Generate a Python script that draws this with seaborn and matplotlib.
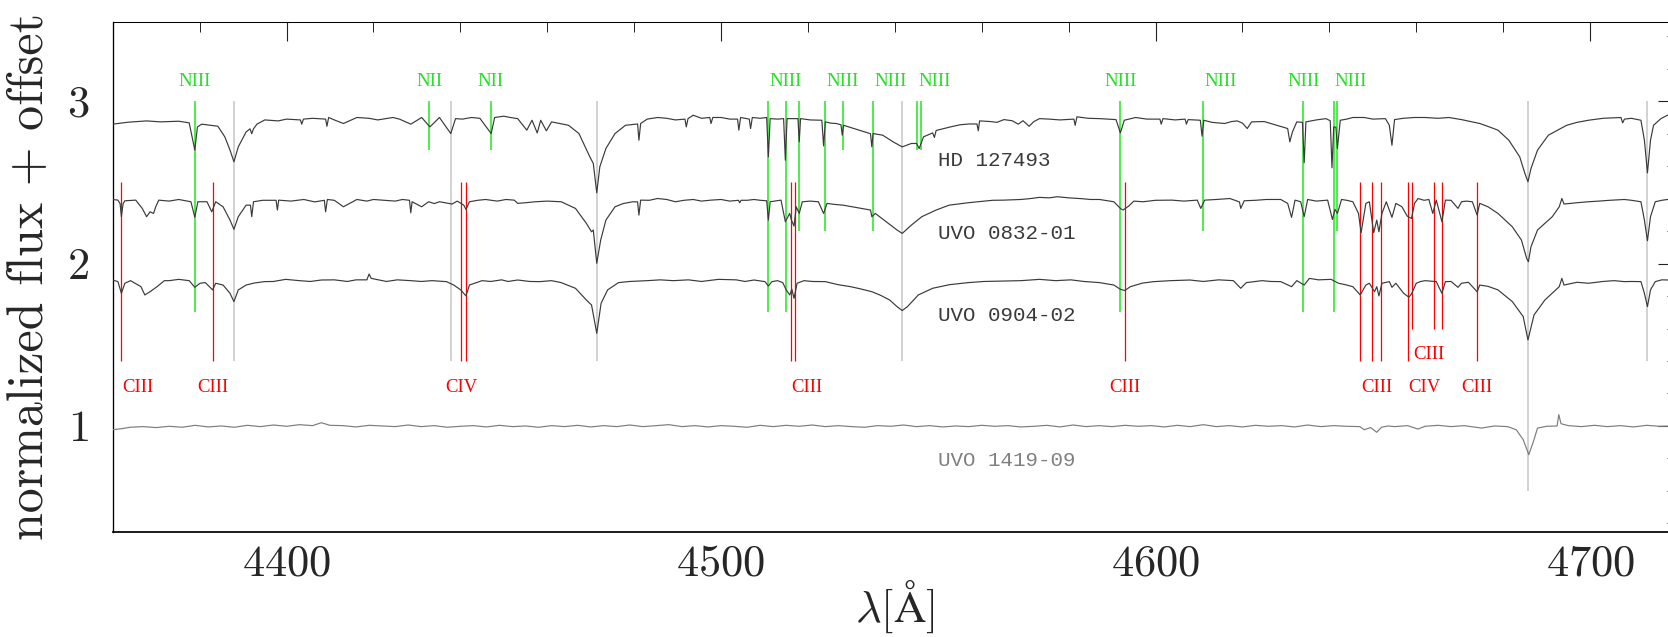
import numpy as np
import pandas as pd
import matplotlib
matplotlib.use("Agg")
import matplotlib.pyplot as plt
from matplotlib.ticker import MultipleLocator
import seaborn as sns

# ---------------- data ----------------
star_names = ["HD 127493", "UVO 0832-01", "UVO 0904-02", "UVO 1419-09"]
offsets = [1.9, 1.4, 0.9, 0.0]

hd_wl = [4360.0, 4363.6, 4367.8, 4371.0, 4375.2, 4377.6, 4378.9, 4379.5, 4380.5, 4384.2,
         4385.8, 4387.0, 4387.9, 4388.9, 4390.7, 4391.6, 4392.0, 4392.4, 4393.2, 4398.1,
         4403.2, 4403.5, 4403.9, 4409.0, 4409.3, 4409.7, 4413.1, 4416.2, 4424.5, 4428.6,
         4431.1, 4433.0, 4435.2, 4437.8, 4438.9, 4442.6, 4447.1, 4447.9, 4450.0, 4453.2,
         4455.3, 4456.5, 4457.7, 4458.5, 4459.8, 4461.0, 4464.9, 4467.3, 4469.8, 4470.6,
         4471.4, 4472.1, 4473.5, 4475.6, 4478.0, 4480.8, 4481.1, 4481.5, 4485.4, 4491.7,
         4492.0, 4492.4, 4493.6, 4497.4, 4497.7, 4498.1, 4503.8, 4504.1, 4504.5, 4506.5,
         4506.8, 4507.2, 4510.5, 4510.9, 4511.3, 4514.4, 4514.8, 4515.2, 4517.7, 4518.0,
         4518.3, 4523.2, 4523.6, 4524.0, 4526.5, 4527.6, 4527.9, 4528.2, 4530.6, 4533.1,
         4534.4, 4534.7, 4535.0, 4537.2, 4539.6, 4541.7, 4543.8, 4545.0, 4545.6, 4546.6,
         4548.7, 4549.1, 4549.5, 4552.8, 4558.9, 4559.2, 4559.5, 4565.1, 4568.4, 4569.5,
         4570.9, 4573.3, 4581.2, 4581.5, 4581.9, 4587.1, 4590.9, 4591.9, 4592.8, 4595.4,
         4601.0, 4601.3, 4601.7, 4606.8, 4607.1, 4607.5, 4610.3, 4610.7, 4611.1, 4615.9,
         4618.8, 4621.1, 4622.1, 4627.9, 4630.4, 4630.9, 4631.5, 4632.5, 4633.8, 4634.2,
         4634.6, 4639.2, 4640.2, 4640.6, 4641.0, 4641.5, 4641.85, 4642.5, 4645.4, 4652.9,
         4653.8, 4654.4, 4655.0, 4659.6, 4670.4, 4674.6, 4678.8, 4681.3, 4683.8, 4685.0,
         4685.7, 4686.4, 4687.9, 4690.4, 4694.6, 4699.6, 4707.1, 4707.5, 4707.9, 4711.7,
         4712.5, 4713.2, 4713.9, 4714.6, 4716.3, 4717.8, 4720.0]
hd_flux = [0.959, 0.971, 0.979, 0.973, 0.977, 0.967, 0.799, 0.942, 0.959, 0.946,
           0.881, 0.799, 0.727, 0.819, 0.911, 0.930, 0.900, 0.930, 0.959, 0.979,
           0.985, 0.959, 0.990, 0.990, 0.946, 1.000, 0.963, 1.000, 1.000, 0.959,
           1.000, 0.942, 1.000, 0.901, 0.993, 1.000, 0.901, 1.000, 1.008, 0.993,
           0.922, 0.983, 0.905, 0.983, 0.918, 0.973, 0.952, 0.901, 0.758, 0.717,
           0.536, 0.696, 0.809, 0.901, 0.952, 0.960, 0.860, 0.963, 1.000, 0.990,
           0.942, 0.993, 1.014, 1.000, 0.963, 1.000, 0.990, 0.922, 1.000, 0.990,
           0.932, 1.000, 1.000, 0.758, 0.993, 0.993, 0.737, 0.993, 0.993, 0.850,
           0.993, 0.983, 0.825, 0.973, 0.963, 0.955, 0.891, 0.952, 0.932, 0.911,
           0.900, 0.819, 0.901, 0.891, 0.850, 0.819, 0.840, 0.840, 0.809, 0.881,
           0.905, 0.877, 0.920, 0.942, 0.960, 0.918, 0.979, 0.987, 0.959, 0.980,
           0.946, 0.993, 0.990, 0.952, 1.004, 0.993, 0.987, 0.905, 0.983, 1.000,
           0.990, 0.959, 0.993, 0.990, 0.959, 0.987, 0.983, 0.885, 0.983, 0.963,
           0.979, 0.932, 0.973, 0.952, 0.932, 0.850, 0.911, 0.973, 0.970, 0.721,
           0.973, 0.993, 0.980, 0.690, 0.942, 0.940, 0.809, 0.983, 1.000, 0.993,
           0.952, 0.829, 0.987, 1.000, 0.987, 0.963, 0.922, 0.860, 0.758, 0.655,
           0.604, 0.686, 0.799, 0.891, 0.952, 0.983, 1.000, 0.967, 0.990, 0.983,
           0.860, 0.659, 0.860, 0.952, 0.993, 1.014, 1.010]
# small continuum wiggles between the features above
hd_fine_wl = [4395.0, 4400.0, 4406.0, 4411.0, 4419.0, 4421.0, 4426.0, 4440.5, 4444.5, 4451.5,
              4462.5, 4483.0, 4487.5, 4489.5, 4495.5, 4500.0, 4502.0, 4509.0, 4513.0, 4520.5,
              4525.3, 4551.0, 4555.0, 4557.0, 4562.0, 4563.5, 4567.0, 4572.0, 4575.5, 4578.0,
              4584.5, 4598.0, 4604.5, 4613.0, 4617.5, 4620.0, 4625.0, 4637.0, 4644.0, 4648.0,
              4650.0, 4657.0, 4662.0, 4665.0, 4667.5, 4672.5, 4676.5, 4697.0, 4703.0, 4709.5,
              4718.9]
hd_fine_flux = [0.985, 0.990, 0.995, 0.985, 0.995, 0.985, 0.990, 0.990, 0.995, 1.000,
                0.965, 0.990, 0.995, 0.985, 0.995, 1.000, 0.990, 0.995, 0.990, 0.985,
                0.965, 0.930, 0.955, 0.960, 0.975, 0.970, 0.980, 0.975, 0.990, 0.985,
                0.995, 0.990, 0.985, 0.970, 0.975, 0.965, 0.975, 0.985, 0.990, 1.000,
                0.990, 0.995, 1.000, 0.995, 1.000, 0.975, 0.945, 0.970, 0.995, 0.995,
                1.010]

u0832_wl = [4360.0, 4361.2, 4361.7, 4362.0, 4362.4, 4362.8, 4365.3, 4366.8, 4367.8, 4368.6,
            4369.4, 4369.9, 4370.6, 4375.2, 4378.0, 4378.9, 4379.6, 4381.7, 4382.8, 4383.7,
            4385.4, 4387.0, 4387.9, 4388.9, 4390.7, 4391.7, 4392.0, 4392.4, 4397.6, 4397.9,
            4398.2, 4408.7, 4409.0, 4409.4, 4413.1, 4416.2, 4422.0, 4428.3, 4428.6, 4428.9,
            4431.1, 4432.7, 4435.2, 4438.1, 4439.3, 4440.8, 4441.3, 4442.1, 4445.8, 4452.4,
            4453.2, 4457.3, 4463.2, 4466.5, 4469.0, 4470.2, 4470.6, 4471.4, 4472.3, 4473.5,
            4475.6, 4479.7, 4480.8, 4481.1, 4481.5, 4485.4, 4489.5, 4493.6, 4497.7, 4504.0,
            4504.3, 4504.6, 4507.6, 4510.5, 4510.9, 4511.3, 4513.8, 4514.8, 4515.8, 4516.2,
            4516.8, 4517.3, 4518.0, 4518.7, 4522.4, 4523.6, 4524.4, 4528.1, 4532.3, 4534.4,
            4534.7, 4535.5, 4538.0, 4540.5, 4541.7, 4543.8, 4546.2, 4549.5, 4556.9, 4565.1,
            4573.3, 4577.4, 4587.1, 4590.4, 4591.9, 4592.5, 4593.8, 4597.1, 4603.8, 4609.6,
            4610.4, 4611.3, 4617.1, 4619.3, 4619.6, 4620.4, 4628.8, 4630.4, 4631.3, 4632.1,
            4633.4, 4634.2, 4635.0, 4639.6, 4640.7, 4641.3, 4641.85, 4642.8, 4645.4, 4646.7,
            4647.3, 4648.4, 4649.2, 4650.2, 4650.9, 4651.4, 4652.1, 4653.1, 4654.4, 4655.3,
            4656.7, 4657.9, 4658.9, 4659.6, 4660.4, 4662.9, 4663.8, 4664.6, 4665.9, 4666.7,
            4669.6, 4670.4, 4672.9, 4674.0, 4674.6, 4678.8, 4682.1, 4684.2, 4685.4, 4685.8,
            4686.4, 4687.9, 4691.3, 4692.9, 4693.5, 4694.0, 4699.6, 4707.9, 4711.7, 4712.5,
            4713.2, 4713.9, 4715.0, 4717.8, 4720.0]
u0832_flux = [0.995, 0.991, 0.970, 0.889, 0.970, 0.987, 0.991, 0.940, 0.889, 0.919,
              0.909, 0.950, 0.991, 0.995, 0.981, 0.885, 0.981, 0.981, 0.919, 0.981,
              0.950, 0.868, 0.811, 0.889, 0.960, 0.960, 0.889, 0.981, 0.990, 0.930,
              0.991, 0.990, 0.919, 0.995, 0.950, 0.995, 0.991, 0.990, 0.913, 0.981,
              0.950, 0.981, 0.981, 0.967, 0.985, 0.960, 0.934, 0.981, 0.995, 0.991,
              0.971, 0.981, 0.981, 0.940, 0.848, 0.796, 0.807, 0.602, 0.745, 0.868,
              0.950, 0.981, 0.980, 0.899, 0.991, 1.001, 0.981, 0.995, 0.991, 0.990,
              0.975, 0.990, 0.995, 0.987, 0.868, 0.981, 0.991, 0.858, 0.909, 0.868,
              0.831, 0.950, 0.909, 0.981, 0.981, 0.909, 0.971, 0.960, 0.940, 0.930,
              0.889, 0.909, 0.858, 0.807, 0.786, 0.837, 0.889, 0.930, 0.975, 0.991,
              1.008, 1.012, 0.995, 0.981, 0.940, 0.930, 0.954, 0.981, 0.991, 0.991,
              0.940, 0.991, 1.001, 0.980, 0.940, 0.987, 0.995, 0.971, 0.885, 0.991,
              0.981, 0.889, 0.995, 0.991, 0.872, 0.934, 0.909, 0.995, 0.981, 0.909,
              0.790, 0.971, 0.981, 0.790, 0.868, 0.796, 0.909, 0.981, 0.885, 0.971,
              0.950, 0.893, 0.878, 0.971, 1.001, 0.995, 0.909, 0.991, 0.858, 0.991,
              0.940, 0.981, 0.981, 0.899, 0.971, 0.909, 0.827, 0.745, 0.632, 0.612,
              0.704, 0.807, 0.889, 0.950, 1.001, 0.967, 0.981, 0.995, 0.981, 0.868,
              0.741, 0.889, 0.981, 0.995, 0.995]
u0832_fine_wl = [4373.0, 4394.5, 4401.0, 4404.0, 4406.5, 4411.0, 4418.5, 4420.0, 4425.0, 4426.7,
                 4434.0, 4444.0, 4448.5, 4450.5, 4455.0, 4460.0, 4477.5, 4483.5, 4487.5, 4491.5,
                 4495.5, 4500.0, 4502.0, 4506.0, 4509.0, 4520.5, 4526.0, 4530.2, 4552.5, 4560.5,
                 4562.5, 4569.0, 4571.0, 4575.5, 4580.0, 4583.0, 4585.0, 4595.0, 4600.0, 4606.5,
                 4614.0, 4623.0, 4625.5, 4637.0, 4644.0, 4661.8, 4668.0, 4671.5, 4676.5, 4697.0,
                 4702.0, 4704.5, 4709.5, 4716.5]
u0832_fine_flux = [0.985, 0.990, 0.985, 0.995, 0.980, 0.990, 0.985, 0.995, 0.985, 0.995,
                   0.970, 0.990, 0.985, 0.995, 0.975, 0.985, 0.970, 0.990, 0.995, 0.990,
                   0.985, 0.995, 0.985, 0.990, 0.990, 0.985, 0.965, 0.950, 0.960, 0.985,
                   0.990, 0.995, 1.000, 1.005, 1.005, 1.000, 0.995, 0.985, 0.990, 0.985,
                   0.995, 0.990, 0.995, 0.985, 0.990, 0.990, 0.990, 0.985, 0.950, 0.975,
                   0.985, 0.990, 0.990, 0.990]

u0904_wl = [4360.0, 4361.2, 4362.0, 4362.8, 4364.1, 4366.5, 4367.4, 4368.6, 4370.2, 4371.9,
            4375.2, 4377.6, 4378.9, 4380.1, 4381.3, 4383.0, 4383.7, 4385.4, 4387.0, 4387.9,
            4388.9, 4390.7, 4394.9, 4399.8, 4408.0, 4418.5, 4419.0, 4419.5, 4428.6, 4436.8,
            4438.5, 4440.1, 4441.3, 4442.1, 4445.0, 4453.2, 4458.3, 4463.2, 4466.5, 4469.0,
            4470.2, 4471.4, 4472.4, 4473.9, 4476.4, 4483.0, 4499.4, 4507.6, 4510.1, 4510.9,
            4511.7, 4514.2, 4515.0, 4515.8, 4516.3, 4516.8, 4517.5, 4519.1, 4524.0, 4529.8,
            4534.7, 4538.8, 4540.5, 4541.7, 4542.9, 4545.4, 4548.7, 4556.9, 4565.1, 4573.3,
            4587.1, 4590.4, 4591.9, 4592.9, 4594.2, 4599.6, 4607.9, 4617.9, 4619.6, 4620.9,
            4628.8, 4631.3, 4632.5, 4634.2, 4635.4, 4640.4, 4642.1, 4645.4, 4647.1, 4648.4,
            4649.2, 4650.4, 4650.9, 4651.4, 4652.1, 4653.8, 4654.4, 4655.3, 4657.1, 4658.3,
            4658.9, 4660.0, 4662.1, 4664.6, 4665.9, 4666.7, 4669.6, 4670.4, 4674.0, 4674.6,
            4678.8, 4682.1, 4684.6, 4685.7, 4687.1, 4689.6, 4692.9, 4693.5, 4694.0, 4699.6,
            4707.9, 4711.7, 4712.5, 4713.2, 4713.9, 4715.0, 4717.8, 4720.0]
u0904_flux = [0.999, 0.989, 0.917, 0.979, 0.995, 0.958, 0.907, 0.927, 0.958, 0.995,
              1.003, 0.995, 0.954, 0.979, 0.983, 0.938, 0.979, 0.968, 0.917, 0.866,
              0.938, 0.968, 0.989, 1.003, 0.999, 1.000, 1.036, 1.009, 0.995, 0.989,
              0.968, 0.938, 0.901, 0.968, 0.995, 0.999, 0.989, 0.983, 0.948, 0.876,
              0.845, 0.671, 0.856, 0.938, 0.983, 0.995, 1.003, 0.999, 0.989, 0.962,
              0.989, 0.983, 0.938, 0.907, 0.942, 0.886, 0.979, 0.995, 0.989, 0.958,
              0.927, 0.876, 0.835, 0.811, 0.835, 0.907, 0.948, 0.983, 0.993, 1.003,
              0.983, 0.968, 0.942, 0.934, 0.958, 0.989, 0.999, 0.995, 0.948, 0.983,
              0.989, 0.958, 0.995, 0.968, 1.009, 1.003, 0.979, 0.958, 0.907, 0.968,
              0.979, 0.927, 0.958, 0.901, 0.979, 0.989, 0.954, 0.979, 0.917, 0.893,
              0.913, 0.979, 0.995, 0.989, 0.917, 0.989, 0.954, 0.979, 0.927, 0.968,
              0.938, 0.866, 0.774, 0.630, 0.784, 0.876, 0.958, 1.009, 0.968, 0.979,
              0.989, 0.989, 0.917, 0.835, 0.938, 0.989, 0.999, 0.999]
u0904_fine_wl = [4373.0, 4392.5, 4397.0, 4403.0, 4405.5, 4411.0, 4414.0, 4416.0, 4423.0, 4425.5,
                 4431.0, 4433.5, 4447.0, 4449.5, 4451.0, 4456.0, 4461.0, 4479.0, 4486.0, 4489.0,
                 4492.5, 4495.5, 4503.5, 4505.5, 4513.0, 4521.0, 4527.0, 4532.0, 4536.7, 4552.5,
                 4560.5, 4569.0, 4577.0, 4580.5, 4583.5, 4597.0, 4603.5, 4611.0, 4614.5, 4624.5,
                 4626.5, 4637.5, 4643.7, 4661.0, 4668.0, 4672.0, 4676.5, 4697.0, 4703.0, 4705.5,
                 4709.5, 4716.5]
u0904_fine_flux = [0.995, 0.980, 0.990, 0.995, 0.990, 1.000, 0.990, 1.000, 0.990, 1.000,
                   0.990, 0.995, 0.990, 1.000, 0.990, 0.990, 0.995, 0.990, 1.000, 0.995,
                   1.000, 0.990, 1.000, 0.990, 0.995, 0.990, 0.970, 0.945, 0.905, 0.970,
                   0.990, 0.995, 0.995, 1.000, 0.990, 0.980, 0.995, 0.990, 1.000, 0.995,
                   0.990, 1.000, 0.970, 0.990, 0.990, 0.985, 0.960, 0.985, 0.990, 0.995,
                   0.990, 1.000]

u1419_wl = [4360, 4362, 4364, 4367, 4370, 4373, 4376, 4379, 4382, 4385, 4388, 4391, 4394,
            4397, 4400, 4403, 4406, 4408, 4410, 4413, 4416, 4419, 4422, 4425, 4428, 4431,
            4434, 4437, 4440, 4443, 4446, 4449, 4452, 4455, 4458, 4461, 4464, 4467, 4470,
            4473, 4476, 4479, 4482, 4485, 4488, 4491, 4494, 4497, 4500, 4503, 4506, 4509,
            4512, 4515, 4518, 4521, 4524, 4527, 4530, 4533, 4536, 4539, 4542, 4545, 4548,
            4551, 4554, 4557, 4560, 4563, 4566, 4569, 4572, 4575, 4578, 4581, 4584, 4587,
            4590, 4593, 4596, 4599, 4602, 4605, 4608, 4611, 4614, 4617, 4620, 4623, 4626,
            4629, 4632, 4635, 4638, 4641, 4644, 4647, 4648, 4649.5, 4650.9, 4652, 4653.5,
            4655, 4658, 4660.4, 4662, 4665, 4668, 4671, 4675, 4678, 4681, 4683, 4684.6,
            4685.9, 4687.1, 4687.9, 4690, 4692.4, 4692.8, 4693.3, 4695, 4698, 4701, 4704,
            4707, 4710, 4713, 4716, 4720]
u1419_flux = [0.977, 0.983, 0.992, 0.996, 0.990, 0.998, 0.992, 1.004, 0.994, 1.000, 0.992, 1.004, 0.996,
              1.006, 0.998, 1.008, 1.002, 1.020, 1.004, 1.002, 0.994, 1.004, 1.000, 0.996, 1.006, 0.996,
              1.002, 0.992, 0.998, 1.002, 0.994, 1.004, 0.996, 1.000, 0.992, 1.002, 0.996, 1.004, 0.994,
              1.002, 0.996, 1.006, 0.996, 1.002, 1.008, 0.996, 1.002, 0.994, 1.002, 0.998, 0.992, 1.004,
              0.996, 1.004, 0.998, 1.006, 0.996, 1.002, 0.996, 0.992, 1.002, 0.998, 1.006, 0.996, 1.002,
              0.994, 1.000, 0.996, 1.004, 0.998, 1.002, 0.994, 0.998, 1.004, 0.994, 1.006, 0.996, 1.002,
              0.996, 1.004, 0.998, 1.002, 0.994, 1.004, 0.996, 1.008, 0.996, 1.002, 0.994, 1.004, 0.998,
              1.002, 0.994, 1.006, 0.996, 1.002, 0.998, 0.996, 0.977, 0.990, 0.961, 0.992, 1.000,
              0.996, 1.002, 0.981, 0.998, 1.004, 0.996, 1.002, 0.987, 1.000, 0.996, 0.977, 0.916,
              0.823, 0.916, 0.987, 0.998, 1.000, 1.070, 1.014, 1.002, 0.996, 1.004, 0.996,
              1.002, 0.994, 1.004, 0.998, 1.000]
u1419_fine_wl = []
u1419_fine_flux = []

# identified line positions (Å) and the vertical extent of their markers
he_lines = [4387.9, 4437.8, 4471.5, 4541.7, 4685.8, 4713.2]
he_bottom = [1.4, 1.4, 1.4, 1.4, 0.6, 1.4]
n_lines = [4378.9, 4432.9, 4447.0, 4510.9, 4515.0, 4518.0, 4524.0, 4528.0, 4535.0,
           4545.0, 4546.0, 4591.9, 4610.9, 4634.0, 4641.0, 4641.85]
n_bottom = [1.7, 2.7, 2.7, 1.7, 1.7, 2.2, 2.2, 2.7, 2.2,
            2.7, 2.7, 1.7, 2.2, 1.7, 1.7, 2.2]
c_lines = [4362.0, 4383.0, 4440.1, 4441.2, 4516.0, 4517.0, 4592.9, 4647.0, 4649.9,
           4651.9, 4658.0, 4658.9, 4664.0, 4665.9, 4674.0]
c_bottom = [1.4, 1.4, 1.4, 1.4, 1.4, 1.4, 1.4, 1.4, 1.4,
            1.4, 1.4, 1.6, 1.6, 1.6, 1.4]

n_label_wl = [4378.9, 4432.9, 4447.0, 4514.8, 4527.9, 4539.0, 4549.1, 4591.9, 4615.0, 4634.0, 4645.0]
n_label_txt = ["NIII", "NII", "NII", "NIII", "NIII", "NIII", "NIII", "NIII", "NIII", "NIII", "NIII"]
c_label_wl = [4365.9, 4383.0, 4440.2, 4519.7, 4592.9, 4650.9, 4661.9, 4662.8, 4673.9]
c_label_txt = ["CIII", "CIII", "CIV", "CIII", "CIII", "CIII", "CIV", "CIII", "CIII"]
c_label_y = [1.212, 1.212, 1.212, 1.212, 1.212, 1.212, 1.212, 1.413, 1.212]

star_label_wl = 4550.0
star_label_y = [2.602, 2.151, 1.649, 0.751]

# ---------------- figure ----------------
sns.set_style("white")
plt.rcParams["font.family"] = ["cmr10", "DejaVu Serif"]
plt.rcParams["mathtext.fontset"] = "cm"
plt.rcParams["axes.unicode_minus"] = False
plt.rcParams["axes.formatter.use_mathtext"] = True

W, H = 1668, 637
fig = plt.figure(figsize=(W / 100, H / 100), dpi=100)
ax_l, ax_r, ax_t, ax_b = 112.7, 1677.0, 21.7, 531.5
ax = fig.add_axes([ax_l / W, (H - ax_b) / H, (ax_r - ax_l) / W, (ax_b - ax_t) / H])

ax.vlines(he_lines, he_bottom, 3.0, colors="#c6c6c6", lw=1.1, zorder=1)
ax.vlines(n_lines, n_bottom, 3.0, colors="#3fec3f", lw=1.3, zorder=1)
ax.vlines(c_lines, c_bottom, 2.5, colors="#ff0000", lw=0.9, zorder=1)

spectra = [(hd_wl + hd_fine_wl, hd_flux + hd_fine_flux),
           (u0832_wl + u0832_fine_wl, u0832_flux + u0832_fine_flux),
           (u0904_wl + u0904_fine_wl, u0904_flux + u0904_fine_flux),
           (u1419_wl + u1419_fine_wl, u1419_flux + u1419_fine_flux)]
frames = []
for name, (wl, fl), off in zip(star_names, spectra, offsets):
    d = pd.DataFrame({"wavelength": wl, "flux": np.asarray(fl) + off, "star": name})
    frames.append(d.sort_values("wavelength"))
df = pd.concat(frames, ignore_index=True)
palette = {star_names[0]: "#3a3a3a", star_names[1]: "#3a3a3a",
           star_names[2]: "#3a3a3a", star_names[3]: "#7c7c7c"}
sns.lineplot(data=df, x="wavelength", y="flux", hue="star", palette=palette,
             estimator=None, sort=False, lw=0.85, legend=False, ax=ax, zorder=3)

for wl, txt in zip(n_label_wl, n_label_txt):
    ax.text(wl, 3.092, txt, color="#22e022", fontsize=13.5, family="Liberation Serif",
            ha="center", va="baseline")
for wl, txt, y in zip(c_label_wl, c_label_txt, c_label_y):
    ax.text(wl, y, txt, color="#ff0000", fontsize=13.5, family="Liberation Serif",
            ha="center", va="baseline")
star_colors = ["#3a3a3a", "#3a3a3a", "#3a3a3a", "#808080"]
for name, y, col in zip(star_names, star_label_y, star_colors):
    ax.text(star_label_wl, y, name, color=col, fontsize=15, family="Liberation Mono",
            ha="left", va="baseline")

ax.set_xlim(4360, 4720)
ax.set_ylim(0.35, 3.49)
ax.xaxis.set_major_locator(MultipleLocator(100))
ax.xaxis.set_minor_locator(MultipleLocator(20))
ax.yaxis.set_major_locator(MultipleLocator(1))
ax.yaxis.set_minor_locator(MultipleLocator(0.2))
ax.tick_params(which="both", direction="in", top=True, right=True, color="#222222")
ax.tick_params(which="major", length=14, width=0.8, labelsize=32)
ax.tick_params(which="minor", length=7, width=0.7)
ax.tick_params(axis="x", which="major", pad=9)
ax.tick_params(axis="y", which="major", pad=25)
for t in ax.get_yticklabels():
    t.set_horizontalalignment("center")

ax.spines["bottom"].set_linewidth(1.25)
ax.spines["left"].set_linewidth(0.95)
ax.spines["top"].set_linewidth(0.75)
ax.spines["right"].set_linewidth(0.75)
for s in ax.spines.values():
    s.set_color("black")

ax.set_xlabel(r"$\lambda[\mathrm{\AA}]$", fontsize=32, va="baseline")
ax.xaxis.set_label_coords(0.5, (ax_b - 622) / (ax_b - ax_t))
ax.set_ylabel("normalized flux + offset", fontsize=36, va="baseline")
ax.yaxis.set_label_coords((42.7 - ax_l) / (ax_r - ax_l), 0.5)

fig.savefig("out.png", dpi=100)
